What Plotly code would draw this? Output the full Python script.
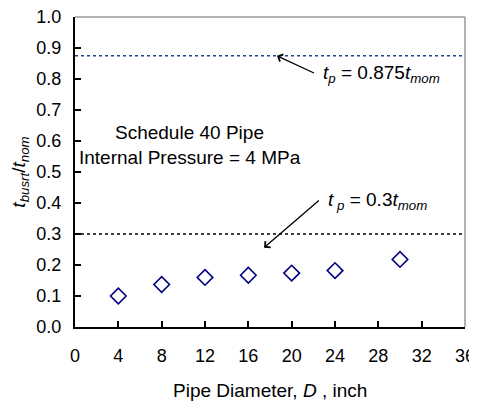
import plotly.graph_objects as go

# Data
diameters = [4, 8, 12, 16, 20, 24, 30]
t_ratio = [0.100, 0.137, 0.160, 0.167, 0.174, 0.182, 0.218]

ref_levels = [0.875, 0.3]
ref_colors = ["#1F4590", "#000000"]
x_range = [0, 36]
y_range = [0, 1.0]
x_ticks = list(range(0, 37, 4))
y_ticks = [round(0.1 * i, 1) for i in range(11)]

FONT = "Liberation Sans"

fig = go.Figure()

for lvl, col in zip(ref_levels, ref_colors):
    fig.add_trace(go.Scatter(
        x=x_range, y=[lvl, lvl], mode="lines",
        line=dict(color=col, width=1.5, dash="dot"),
        showlegend=False, hoverinfo="skip"))

fig.add_trace(go.Scatter(
    x=diameters, y=t_ratio, mode="markers",
    marker=dict(symbol="diamond-open", size=12, color="#000080",
                line=dict(width=1.6, color="#000080")),
    showlegend=False))

# Arrows
fig.add_annotation(x=18.64, y=0.875, ax=22.2, ay=0.817, axref="x", ayref="y",
                   xref="x", yref="y", text="", showarrow=True,
                   arrowhead=4, arrowsize=1.2, arrowwidth=1.3, arrowcolor="#000000")
fig.add_annotation(x=17.45, y=0.256, ax=22.65, ay=0.412, axref="x", ayref="y",
                   xref="x", yref="y", text="", showarrow=True,
                   arrowhead=4, arrowsize=1.2, arrowwidth=1.3, arrowcolor="#000000")

fig.add_annotation(x=22.75, y=0.817, xref="x", yref="y", xanchor="left", yanchor="middle",
                   text="<i>t</i><sub><i>p</i></sub> = 0.875<i>t</i><sub><i>mom</i></sub>",
                   showarrow=False, font=dict(family=FONT, size=19, color="#000"))
fig.add_annotation(x=23.2, y=0.405, xref="x", yref="y", xanchor="left", yanchor="middle",
                   text="<i>t</i><sub> <i>p</i></sub> = 0.3<i>t</i><sub><i>mom</i></sub>",
                   showarrow=False, font=dict(family=FONT, size=19, color="#000"))

fig.add_annotation(x=10.6, y=0.627, xref="x", yref="y", xanchor="center", yanchor="middle",
                   text="Schedule 40 Pipe", showarrow=False,
                   font=dict(family=FONT, size=19, color="#000"))
fig.add_annotation(x=10.6, y=0.547, xref="x", yref="y", xanchor="center", yanchor="middle",
                   text="Internal Pressure = 4 MPa", showarrow=False,
                   font=dict(family=FONT, size=19, color="#000"))

# x axis title (placed in paper coordinates below the tick labels)
fig.add_annotation(x=0.5, y=-0.205, xref="paper", yref="paper", xanchor="center",
                   yanchor="middle", text="Pipe Diameter, <i>D</i> , inch",
                   showarrow=False, font=dict(family=FONT, size=19, color="#000"))

# grey top/right border
fig.add_shape(type="line", xref="paper", yref="paper", x0=0, x1=1, y0=1, y1=1,
              line=dict(color="#999999", width=1.5))
fig.add_shape(type="line", xref="paper", yref="paper", x0=1, x1=1, y0=0, y1=1,
              line=dict(color="#999999", width=1.5))

# page body has an 8px margin, so the figure is sized/offset to compensate
fig.update_layout(
    width=469, height=395,
    margin=dict(l=67, r=12, t=9, b=76, autoexpand=False),
    paper_bgcolor="white", plot_bgcolor="white",
    font=dict(family=FONT, size=18, color="#000"),
    xaxis=dict(range=x_range, tickvals=x_ticks, ticks="inside", ticklen=6,
               tickwidth=2, tickcolor="#000", showline=True, linecolor="#000",
               linewidth=2, showgrid=False, zeroline=False, automargin=True,
               ticklabelstandoff=11, ticklabeloverflow="allow"),
    yaxis=dict(range=y_range, tickvals=y_ticks, tickformat=".1f", ticks="inside",
               ticklen=6, tickwidth=2, tickcolor="#000", showline=True,
               linecolor="#000", linewidth=2, showgrid=False, zeroline=False,
               automargin=True, ticklabeloverflow="allow",
               ticklabelstandoff=8,
               title=dict(text="<i>t</i><sub><i>busrt</i></sub>/<i>t</i><sub><i>nom</i></sub>",
                          standoff=11, font=dict(size=19))),
)

fig.write_html("out.html")
